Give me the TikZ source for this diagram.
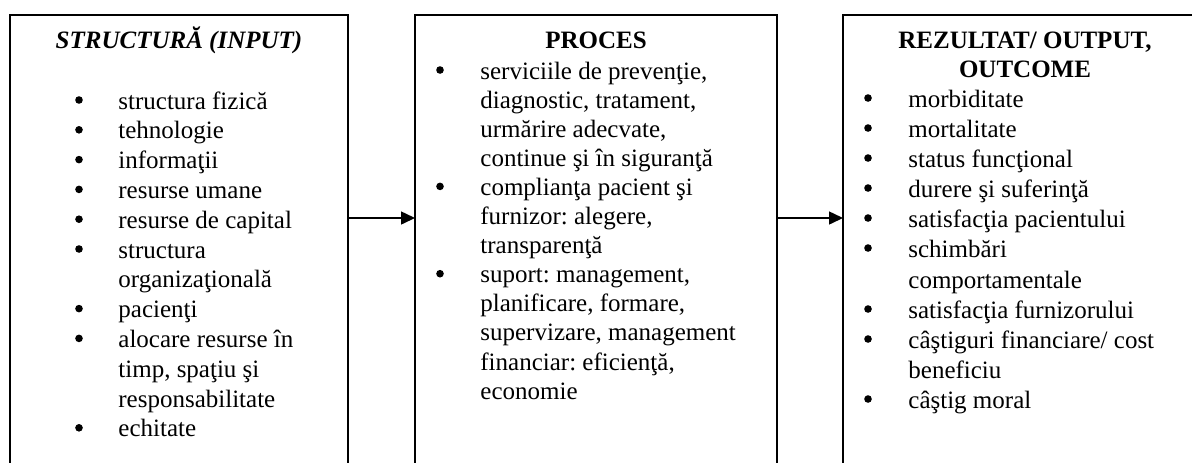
\documentclass[tikz,border=0pt]{standalone}
\usepackage{fontspec}
\setmainfont{Liberation Serif}
\usetikzlibrary{arrows.meta}
\frenchspacing
\begin{document}
\frenchspacing
\begin{tikzpicture}[x=0.5pt,y=-0.5pt,
  box/.style={draw, line width=0.75pt, inner sep=0pt, outer sep=0pt, anchor=north west},
  txt/.style={font=\fontsize{12.5}{15}\selectfont, inner sep=0pt, anchor=base west},
  ttl/.style={font=\fontsize{12.5}{15}\selectfont\bfseries, inner sep=0pt, anchor=base},
  bul/.style={circle, fill, inner sep=0pt, minimum size=3.8pt},
  arr/.style={line width=0.75pt, -{Triangle[length=7pt,width=6.5pt]}}]
\useasboundingbox (0,0) rectangle (1192,462);
\clip (0,0) rectangle (1192,462);
% boxes
\node[box, minimum width=169pt, minimum height=245pt] (b1) at (10,15) {};
\node[box, minimum width=181pt, minimum height=245pt] (b2) at (415,15) {};
\node[box, minimum width=182pt, minimum height=245pt] (b3) at (843,15) {};
% arrows
\draw[arr] ([yshift=-101.5pt]b1.north east) -- ([yshift=-101.5pt]b2.north west);
\draw[arr] ([yshift=-101.5pt]b2.north east) -- ([yshift=-101.5pt]b3.north west);
% titles
\node[ttl, font=\fontsize{12.5}{15}\selectfont\bfseries\itshape] (t1) at (179,48) {STRUCTURĂ (INPUT)};
\node[ttl] (t2) at (596,48) {PROCES};
\node[ttl] (t3a) at (1025,48) {REZULTAT/ OUTPUT,};
\node[ttl] (t3b) at (1025,77) {OUTCOME};
% box 1 list
\foreach \i/\y/\t in {1/109/structura fizică, 2/138.8/tehnologie, 3/168.6/informaţii,
  4/198.4/resurse umane, 5/228.2/resurse de capital, 6/258/structura,
  7/287.8/organizaţională, 8/317.6/pacienţi, 9/347.4/alocare resurse în,
  10/377.2/{timp, spaţiu şi}, 11/407/responsabilitate, 12/436.8/echitate}
  \node[txt] (a\i) at (118,\y) {\t};
\foreach \i/\y in {1/109, 2/138.8, 3/168.6, 4/198.4, 5/228.2, 6/258, 8/317.6, 9/347.4, 12/436.8}
  \node[bul] (ab\i) at (79,\y-9) {};
% box 2 list
\foreach \i/\y/\t in {1/79/{serviciile de prevenţie,}, 2/108.1/{diagnostic, tratament,},
  3/137.2/{urmărire adecvate,}, 4/166.3/continue şi în siguranţă,
  5/195.4/complianţa pacient şi, 6/224.5/{furnizor: alegere,}, 7/253.6/transparenţă,
  8/282.7/{suport: management,}, 9/311.8/{planificare, formare,},
  10/340.9/{supervizare, management}, 11/370/{financiar: eficienţă,}, 12/399.1/economie}
  \node[txt] (p\i) at (480,\y) {\t};
\foreach \i/\y in {1/79, 5/195.4, 8/282.7}
  \node[bul] (pb\i) at (440,\y-9) {};
% box 3 list
\foreach \i/\y/\t in {1/107/morbiditate, 2/137/mortalitate, 3/167/status funcţional,
  4/197/durere şi suferinţă, 5/227/satisfacţia pacientului, 6/257/schimbări,
  7/288/comportamentale, 8/318/satisfacţia furnizorului, 9/348/{câştiguri financiare/ cost},
  10/378/beneficiu, 11/408/câştig moral}
  \node[txt] (r\i) at (908,\y) {\t};
\foreach \i/\y in {1/107, 2/137, 3/167, 4/197, 5/227, 6/257, 8/318, 9/348, 11/408}
  \node[bul] (rb\i) at (868,\y-9) {};
\end{tikzpicture}
\end{document}
